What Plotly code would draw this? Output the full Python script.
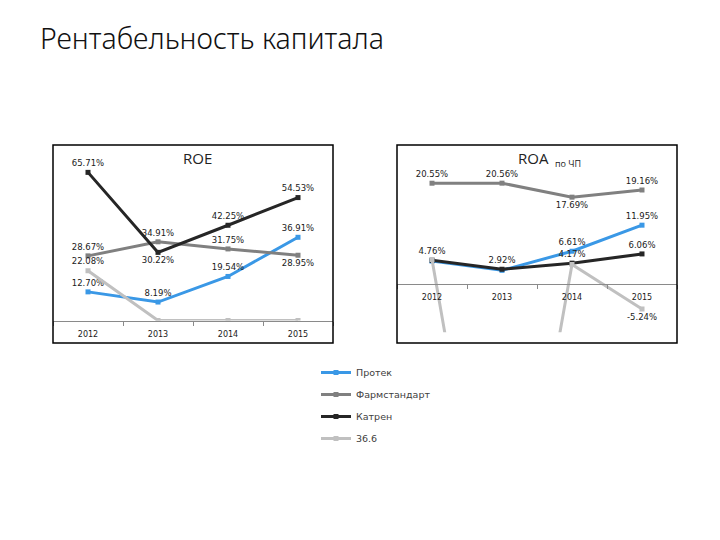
import plotly.graph_objects as go

OFF = 8  # page body margin offset
W, H = 720 - OFF, 540 - OFF

years = ["2012", "2013", "2014", "2015"]
series_names = ["Протек", "Фармстандарт", "Катрен", "36.6"]

roe_protek = [12.70, 8.19, 19.54, 36.91]
roe_pharm = [28.67, 34.91, 31.75, 28.95]
roe_katren = [65.71, 30.22, 42.25, 54.53]
roe_366 = [22.08, 0, 0, 0]

roe_protek_lbl = ["12.70%", "8.19%", "19.54%", "36.91%"]
roe_pharm_lbl = ["28.67%", "34.91%", "31.75%", "28.95%"]
roe_katren_lbl = ["65.71%", "30.22%", "42.25%", "54.53%"]
roe_366_lbl = ["22.08%", "", "", ""]

roa_protek = [4.60, 2.70, 6.61, 11.95]
roa_pharm = [20.55, 20.56, 17.69, 19.16]
roa_katren = [4.76, 2.92, 4.17, 6.06]
roa_366 = [4.90, -77.0, 3.90, -5.24]

roa_protek_lbl = ["", "", "6.61%", "11.95%"]
roa_pharm_lbl = ["20.55%", "20.56%", "17.69%", "19.16%"]
roa_katren_lbl = ["4.76%", "2.92%", "4.17%", "6.06%"]
roa_366_lbl = ["", "", "", "-5.24%"]

colors = ["#3A98E6", "#808080", "#262626", "#C0C0C0"]

TC, BC = "top center", "bottom center"
roe_pos = [[TC] * 4, [TC, TC, TC, BC], [TC, BC, TC, TC], [TC] * 4]
roa_pos = [[TC] * 4, [TC, TC, BC, TC], [TC] * 4, [TC, TC, TC, BC]]


def fx(px):
    return (px - OFF) / W


def fy(px):
    return 1 - (px - OFF) / H


def xdom(a, b):
    return [fx(a), fx(b)]


def ydom(top, bottom):
    return [fy(bottom), fy(top)]


fig = go.Figure()
label_font = dict(family="DejaVu Sans", size=8.5, color="#1a1a1a")

roe_sets = [(roe_protek, roe_protek_lbl), (roe_pharm, roe_pharm_lbl),
            (roe_katren, roe_katren_lbl), (roe_366, roe_366_lbl)]
roa_sets = [(roa_protek, roa_protek_lbl), (roa_pharm, roa_pharm_lbl),
            (roa_katren, roa_katren_lbl), (roa_366, roa_366_lbl)]

for i, (vals, lbls) in enumerate(roe_sets):
    fig.add_trace(go.Scatter(
        x=years, y=vals, text=lbls, mode="lines+markers+text",
        textposition=roe_pos[i], textfont=label_font,
        name=series_names[i], legendgroup=series_names[i],
        line=dict(color=colors[i], width=3),
        marker=dict(symbol="square", size=5, color=colors[i]),
        cliponaxis=(i == 3), xaxis="x", yaxis="y", showlegend=True))

for i, (vals, lbls) in enumerate(roa_sets):
    fig.add_trace(go.Scatter(
        x=years, y=vals, text=lbls, mode="lines+markers+text",
        textposition=roa_pos[i], textfont=label_font,
        name=series_names[i], legendgroup=series_names[i],
        line=dict(color=colors[i], width=3),
        marker=dict(symbol="square", size=5, color=colors[i]),
        cliponaxis=(i == 3), xaxis="x2", yaxis="y2", showlegend=False))

tickfont = dict(family="DejaVu Sans", size=8, color="#1a1a1a")

fig.update_layout(
    width=W, height=H,
    margin=dict(l=0, r=0, t=0, b=0),
    paper_bgcolor="white", plot_bgcolor="rgba(0,0,0,0)",
    xaxis=dict(domain=xdom(53, 333), type="category", range=[-0.5, 3.5],
               anchor="y", showline=True, linecolor="#8a8a8a", linewidth=1,
               ticks="outside", ticklen=4, tickcolor="#8a8a8a", tickson="boundaries",
               ticklabelstandoff=6,
               showgrid=False, zeroline=False, tickfont=tickfont, fixedrange=True),
    yaxis=dict(domain=ydom(162.7, 320.5), range=[0, 70], visible=False,
               showgrid=False, zeroline=False, fixedrange=True),
    xaxis2=dict(domain=xdom(397, 677), type="category", range=[-0.5, 3.5],
                anchor="free", position=fy(283.5), showline=True,
                linecolor="#8a8a8a", linewidth=1,
                ticks="outside", ticklen=4, tickcolor="#8a8a8a", tickson="boundaries",
                ticklabelstandoff=6,
                showgrid=False, zeroline=False, tickfont=tickfont, fixedrange=True),
    yaxis2=dict(domain=ydom(161.5, 332.3), range=[-10, 25], visible=False,
                showgrid=False, zeroline=False, fixedrange=True),
    legend=dict(x=fx(316), y=fy(358), xanchor="left", yanchor="top",
                bgcolor="rgba(0,0,0,0)", tracegroupgap=3,
                font=dict(family="DejaVu Sans", size=9.5, color="#404040")),
    showlegend=True,
)

fig.add_shape(type="rect", xref="paper", yref="paper",
              x0=fx(53), x1=fx(333), y0=fy(343), y1=fy(145),
              line=dict(color="black", width=1.5))
fig.add_shape(type="rect", xref="paper", yref="paper",
              x0=fx(397), x1=fx(677), y0=fy(343), y1=fy(145),
              line=dict(color="black", width=1.5))

fig.add_annotation(text="Рентабельность капитала", xref="paper", yref="paper",
                   x=fx(38), y=fy(38), xanchor="left", yanchor="middle",
                   showarrow=False,
                   font=dict(family="Noto Sans", size=28.5, color="#111111", weight=300))
fig.add_annotation(text="ROE", xref="paper", yref="paper",
                   x=fx(197), y=fy(158), xanchor="center", yanchor="middle",
                   showarrow=False, font=dict(family="Open Sans", size=15, color="#222222"))
fig.add_annotation(text="ROA", xref="paper", yref="paper",
                   x=fx(533), y=fy(158), xanchor="center", yanchor="middle",
                   showarrow=False, font=dict(family="Open Sans", size=15, color="#222222"))
fig.add_annotation(text="по ЧП", xref="paper", yref="paper",
                   x=fx(553), y=fy(164), xanchor="left", yanchor="middle",
                   showarrow=False, font=dict(family="Open Sans", size=9, color="#222222"))

fig.write_html("out.html")
